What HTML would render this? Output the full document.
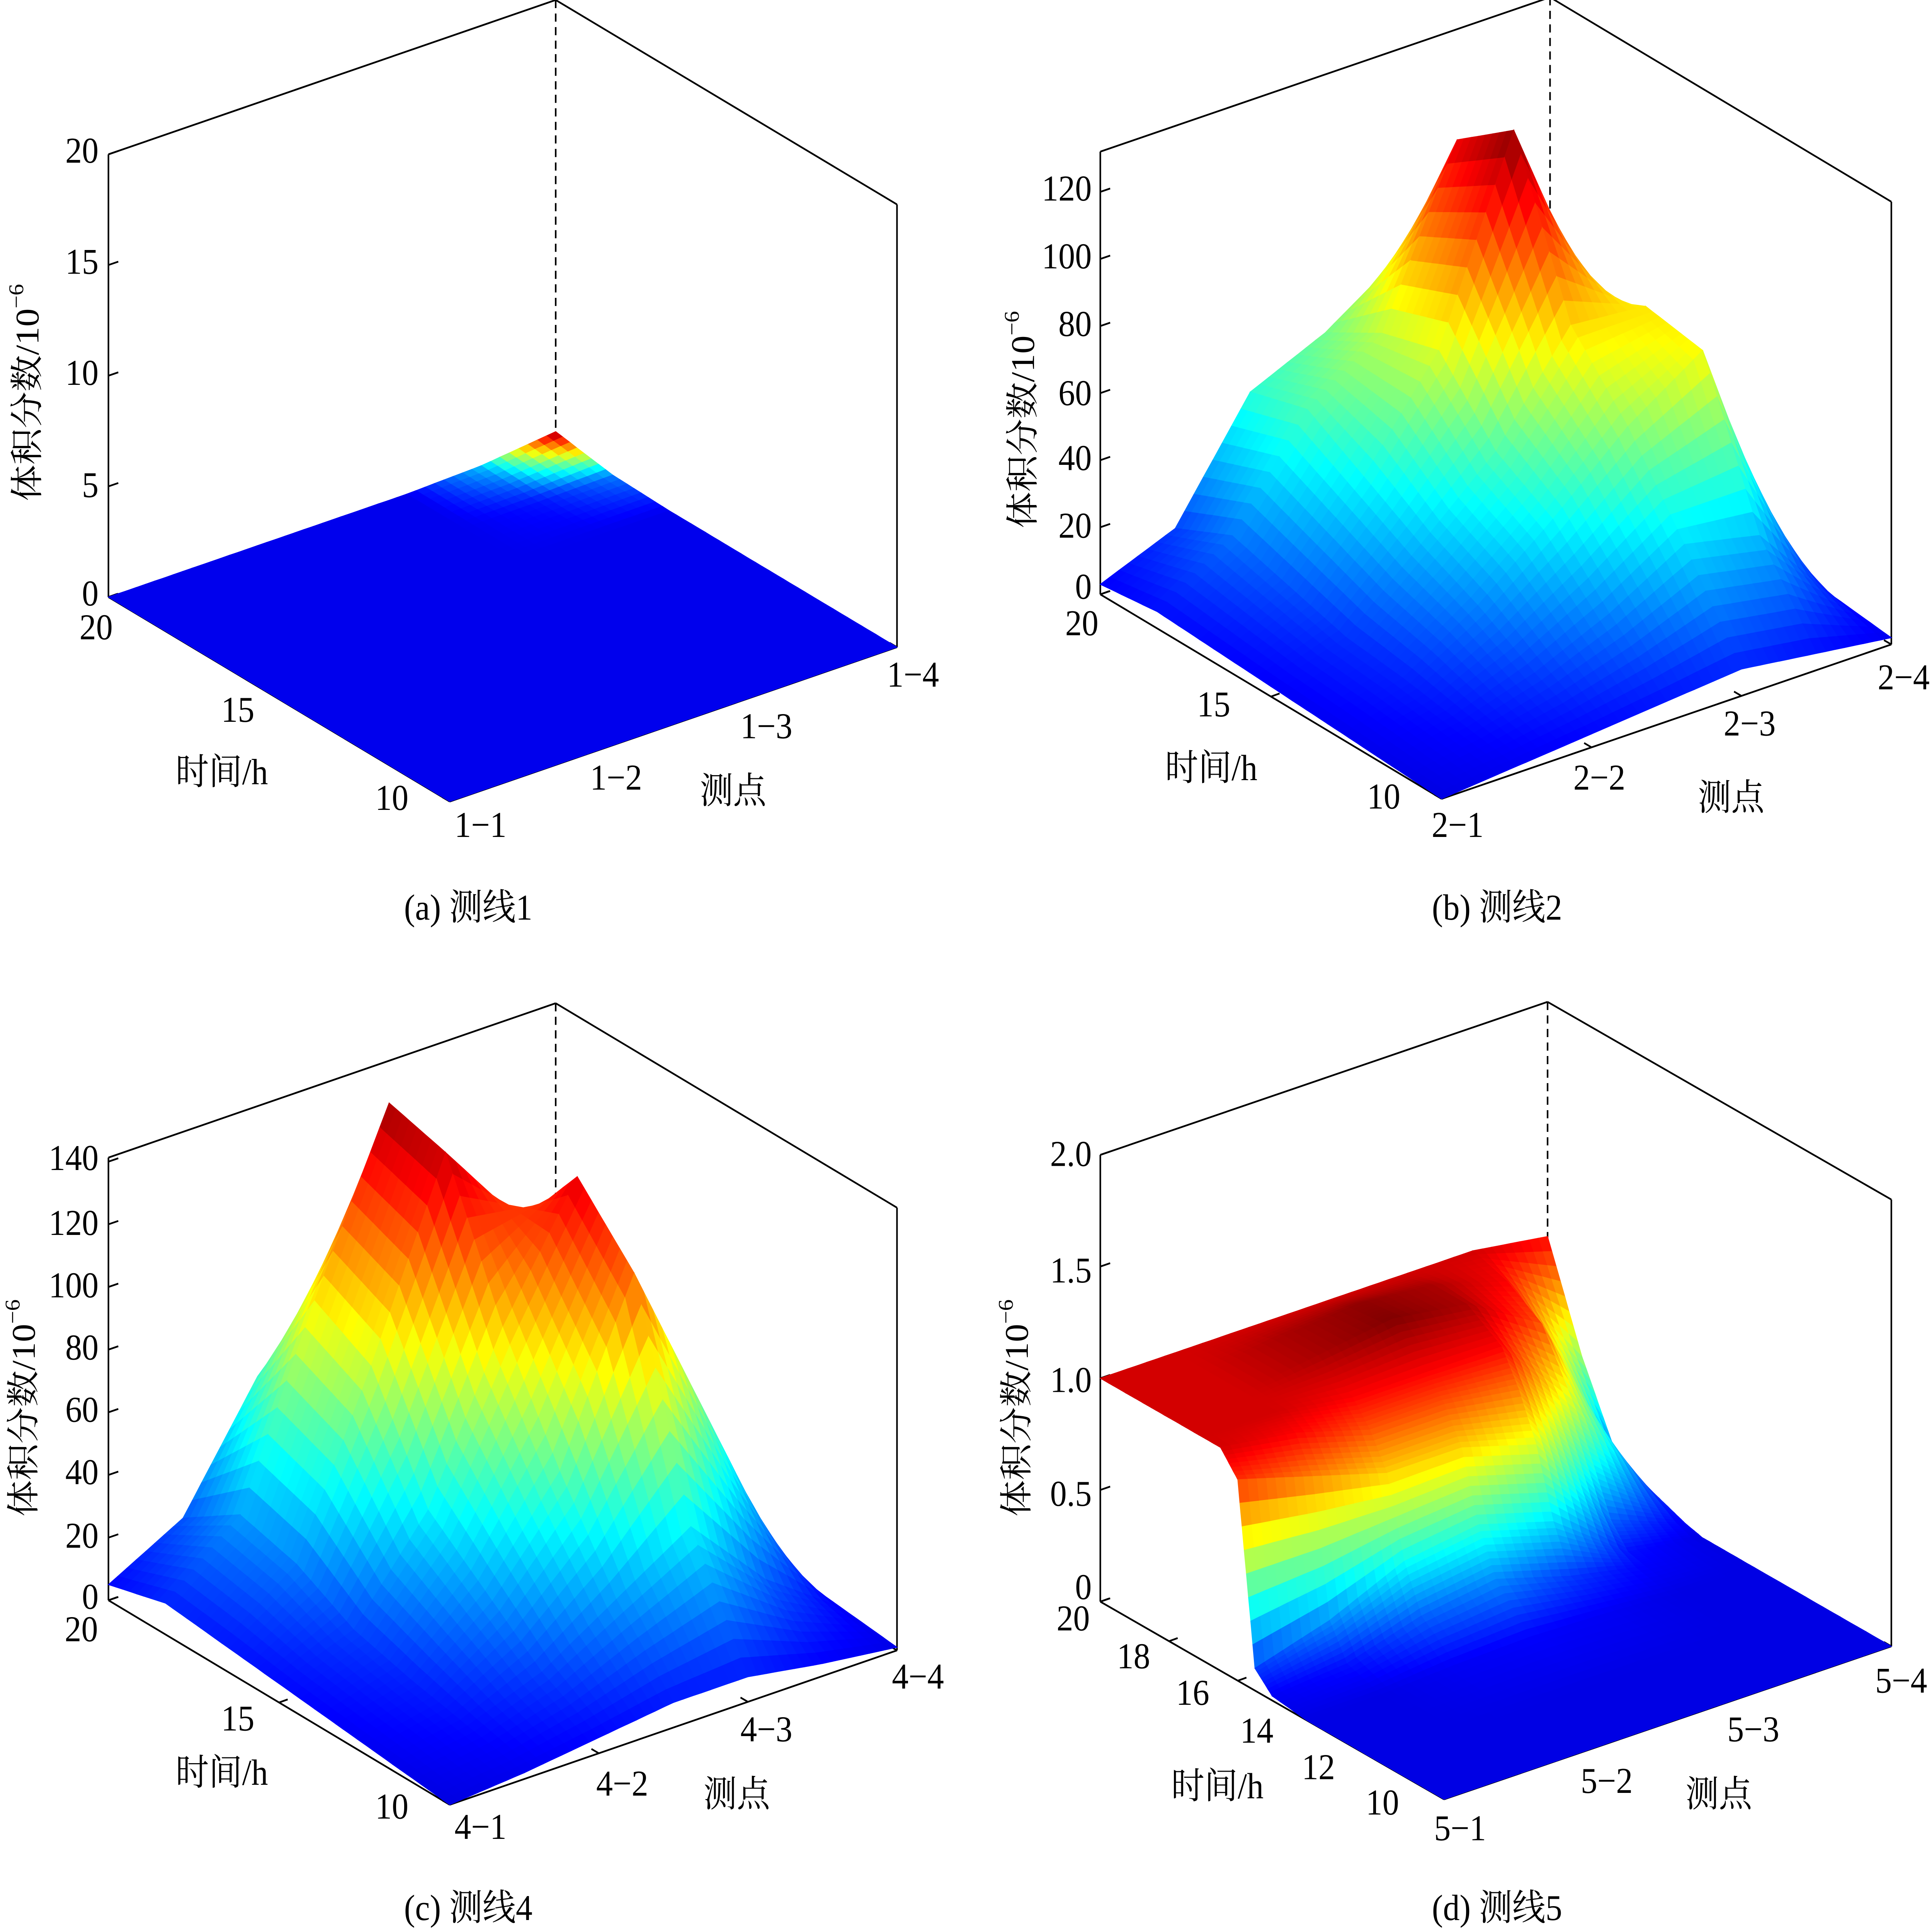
<!DOCTYPE html>
<html><head><meta charset="utf-8">
<style>
html,body{margin:0;padding:0;background:#fff;overflow:hidden;width:100%;height:100%;}
svg{display:block;width:100vw;height:100vh;}
text{font-family:"Liberation Serif","Noto Serif CJK SC","Noto Sans CJK SC",serif;fill:#000;}
</style></head>
<body>
<svg id="fig" xmlns="http://www.w3.org/2000/svg" viewBox="0 0 1568 1427" preserveAspectRatio="none">
<rect x="0" y="0" width="1568" height="1427" fill="#fff"/>
<g id="layerA"></g>
<g id="layerB"></g>
<g id="layerC"></g>
<g id="layerD"></g>
<g font-size="27">
 <g text-anchor="end" dominant-baseline="middle">
  <text x="80" y="114">20</text><text x="80" y="196">15</text><text x="80" y="278">10</text><text x="80" y="361">5</text><text x="80" y="441">0</text>
 </g>
 <g text-anchor="middle" dominant-baseline="middle">
  <text x="78" y="466">20</text><text x="193" y="527">15</text><text x="318" y="592">10</text>
 </g>
 <g text-anchor="middle" dominant-baseline="middle">
  <text x="390" y="612">1−1</text><text x="500" y="577">1−2</text><text x="622" y="539">1−3</text><text x="741" y="501">1−4</text>
 </g>
 <text x="180" y="573" text-anchor="middle" dominant-baseline="middle">时间/h</text>
 <text x="595" y="587" text-anchor="middle" dominant-baseline="middle">测点</text>
 <text transform="translate(25,290) rotate(-90)" text-anchor="middle" dominant-baseline="middle">体积分数/10<tspan font-size="17" dy="-10">−6</tspan></text>
 <text x="380" y="673" text-anchor="middle" dominant-baseline="middle">(a)  测线1</text>

 <g text-anchor="end" dominant-baseline="middle">
  <text x="886" y="142">120</text><text x="886" y="192">100</text><text x="886" y="242">80</text><text x="886" y="293">60</text><text x="886" y="341">40</text><text x="886" y="391">20</text><text x="886" y="436">0</text>
 </g>
 <g text-anchor="middle" dominant-baseline="middle">
  <text x="878" y="463">20</text><text x="985" y="523">15</text><text x="1123" y="591">10</text>
 </g>
 <g text-anchor="middle" dominant-baseline="middle">
  <text x="1183" y="612">2−1</text><text x="1298" y="577">2−2</text><text x="1420" y="537">2−3</text><text x="1545" y="503">2−4</text>
 </g>
 <text x="983" y="570" text-anchor="middle" dominant-baseline="middle">时间/h</text>
 <text x="1405" y="592" text-anchor="middle" dominant-baseline="middle">测点</text>
 <text transform="translate(833,310) rotate(-90)" text-anchor="middle" dominant-baseline="middle">体积分数/10<tspan font-size="17" dy="-10">−6</tspan></text>
 <text x="1215" y="673" text-anchor="middle" dominant-baseline="middle">(b)  测线2</text>

 <g text-anchor="end" dominant-baseline="middle">
  <text x="80" y="858">140</text><text x="80" y="906">120</text><text x="80" y="952">100</text><text x="80" y="998">80</text><text x="80" y="1044">60</text><text x="80" y="1090">40</text><text x="80" y="1137">20</text><text x="80" y="1182">0</text>
 </g>
 <g text-anchor="middle" dominant-baseline="middle">
  <text x="66" y="1206">20</text><text x="193" y="1272">15</text><text x="318" y="1337">10</text>
 </g>
 <g text-anchor="middle" dominant-baseline="middle">
  <text x="390" y="1352">4−1</text><text x="505" y="1320">4−2</text><text x="622" y="1280">4−3</text><text x="745" y="1241">4−4</text>
 </g>
 <text x="180" y="1312" text-anchor="middle" dominant-baseline="middle">时间/h</text>
 <text x="598" y="1328" text-anchor="middle" dominant-baseline="middle">测点</text>
 <text transform="translate(22,1040) rotate(-90)" text-anchor="middle" dominant-baseline="middle">体积分数/10<tspan font-size="17" dy="-10">−6</tspan></text>
 <text x="380" y="1412" text-anchor="middle" dominant-baseline="middle">(c)  测线4</text>

 <g text-anchor="end" dominant-baseline="middle">
  <text x="886" y="855">2.0</text><text x="886" y="941">1.5</text><text x="886" y="1022">1.0</text><text x="886" y="1106">0.5</text><text x="886" y="1175">0</text>
 </g>
 <g text-anchor="middle" dominant-baseline="middle">
  <text x="871" y="1198">20</text><text x="920" y="1226">18</text><text x="968" y="1253">16</text><text x="1020" y="1281">14</text><text x="1070" y="1308">12</text><text x="1122" y="1334">10</text>
 </g>
 <g text-anchor="middle" dominant-baseline="middle">
  <text x="1185" y="1353">5−1</text><text x="1304" y="1318">5−2</text><text x="1423" y="1280">5−3</text><text x="1543" y="1244">5−4</text>
 </g>
 <text x="988" y="1322" text-anchor="middle" dominant-baseline="middle">时间/h</text>
 <text x="1395" y="1328" text-anchor="middle" dominant-baseline="middle">测点</text>
 <text transform="translate(828,1040) rotate(-90)" text-anchor="middle" dominant-baseline="middle">体积分数/10<tspan font-size="17" dy="-10">−6</tspan></text>
 <text x="1215" y="1412" text-anchor="middle" dominant-baseline="middle">(d)  测线5</text>
</g>
</svg>
<script>
const pointsGrid = [1, 1.5, 2, 2.5, 3, 3.5, 4];

const aTimes = [10, 11.67, 13.33, 15, 16.67, 18.33, 20];
const aValues = [
  [0,0,0,0,0,0,0],
  [0,0,0,0,0,0,0],
  [0,0,0,0,0,0,0],
  [0,0,0,0,0,0,0],
  [0,0,0,0,0,0,0],
  [0,0,0,0,0,0.02,0.08],
  [0,0,0,0,0,0.12,0.5]
];
const bTimes = [10, 11.67, 13.33, 15, 16.67, 18.33, 20];
const bValues = [
  [0,2,4,6,8,5,2],
  [1,5,12,22,35,30,4],
  [2,8,22,40,60,75,8],
  [3,10,30,50,80,78,10],
  [4,15,40,70,128,70,10],
  [5,20,50,65,115,60,8],
  [3,12,45,55,70,40,5]
];
const cTimes = [10, 11.67, 13.33, 15, 16.67, 18.33, 20];
const cValues = [
  [0,2,5,8,8,4,1],
  [2,6,15,30,45,20,3],
  [4,10,30,60,115,60,5],
  [6,15,45,95,135,70,6],
  [8,25,80,140,110,50,5],
  [10,30,90,145,100,35,4],
  [5,18,55,80,50,15,3]
];
const dTimes = [10, 12, 14, 15, 15.5, 16, 16.5, 17, 18, 19, 20];
const dValues = [
  [0,0,0,0,0,0,0],
  [0,0,0,0,0,0,0],
  [0,0,0.02,0.03,0.02,0,0],
  [0.02,0.05,0.15,0.2,0.1,0.03,0],
  [0.1,0.2,0.35,0.4,0.3,0.05,0],
  [0.9,0.8,0.7,0.7,0.6,0.15,0.02],
  [1.0,0.95,0.85,0.85,0.8,0.35,0.05],
  [1.0,1.0,0.95,0.95,0.95,0.55,0.08],
  [1.0,1.0,1.05,1.1,1.05,0.85,0.15],
  [1.0,1.0,1.05,1.08,1.05,0.95,0.5],
  [1.0,1.0,1.0,1.0,1.0,1.0,0.95]
];

const NS = 'http://www.w3.org/2000/svg';
const panels = [
  {id:'A', key:'a', times:aTimes, values:aValues, F:[365,592], L:[88,441], R:[728,478], H:327, zmax:20, cmin:-0.06, cmax:0.5, zTicks:[0,5,10,15,20], tTicks:[10,15,20]},
  {id:'B', key:'b', times:bTimes, values:bValues, F:[1170,590], L:[893,439], R:[1535,476], H:327, zmax:132, cmin:-14, cmax:128, zTicks:[0,20,40,60,80,100,120], tTicks:[10,15,20]},
  {id:'C', key:'c', times:cTimes, values:cValues, F:[365,1333], L:[88,1182], R:[728,1219], H:327, zmax:141.3, cmin:-16, cmax:150, zTicks:[0,20,40,60,80,100,120,140], tTicks:[10,15,20]},
  {id:'D', key:'d', times:dTimes, values:dValues, F:[1172,1329], L:[893,1183], R:[1535,1216], H:330, zmax:2.0, cmin:-0.12, cmax:1.1, zTicks:[0,0.5,1,1.5,2], tTicks:[10,12,14,16,18,20]}
];

function clamp(x){return Math.max(0,Math.min(1,x));}
function jet(t){
  t = clamp(t);
  const r = clamp(1.5-Math.abs(4*t-3)), g = clamp(1.5-Math.abs(4*t-2)), b = clamp(1.5-Math.abs(4*t-1));
  return 'rgb('+Math.round(r*255)+','+Math.round(g*255)+','+Math.round(b*255)+')';
}
function uOf(point){return (point-1)/3;}
function vOf(p,time){return (time-10)/10;}
function proj(p,u,v,z){
  const x = p.F[0] + u*(p.R[0]-p.F[0]) + v*(p.L[0]-p.F[0]);
  const y = p.F[1] + u*(p.R[1]-p.F[1]) + v*(p.L[1]-p.F[1]) - (z/p.zmax)*p.H;
  return [x,y];
}
function line(g,a,b,name,dash){
  const l = document.createElementNS(NS,'line');
  l.setAttribute('x1',a[0]);l.setAttribute('y1',a[1]);l.setAttribute('x2',b[0]);l.setAttribute('y2',b[1]);
  l.setAttribute('stroke','#000');l.setAttribute('stroke-width','1.3');
  if(dash) l.setAttribute('stroke-dasharray','6,4');
  
  
  g.appendChild(l);
}

panels.forEach(p=>{
  const g = document.getElementById('layer'+p.id);
  const B = [p.L[0]+p.R[0]-p.F[0], p.L[1]+p.R[1]-p.F[1]];
  const up = q=>[q[0], q[1]-p.H];
  line(g, up(B), B, 'back-dashed-edge', true);
  line(g, p.L, up(p.L), 'z-axis-line');
  line(g, up(p.L), up(B), 'top-left-edge');
  line(g, up(B), up(p.R), 'top-right-edge');
  line(g, p.R, up(p.R), 'right-vertical-edge');
  line(g, p.F, p.L, 'time-axis-line');
  line(g, p.F, p.R, 'point-axis-line');
  p.zTicks.forEach(z=>{
    const a = proj(p,0,1,z);
    line(g, a, [a[0]+8, a[1]-2.5], 'z-tick');
  });
  p.tTicks.forEach(t=>{
    const a = proj(p,0,vOf(p,t),0);
    line(g, a, [a[0]+7, a[1]-2.3], 'time-tick');
  });
  [1,2,3,4].forEach(pt=>{
    const a = proj(p,uOf(pt),0,0);
    line(g, a, [a[0]-6, a[1]-3.2], 'point-tick');
  });
  const quads = [];
  const T = p.times, V = p.values, S = 8;
  for(let j=0;j<T.length-1;j++){
    for(let i=0;i<pointsGrid.length-1;i++){
      const z00=V[j][i], z10=V[j][i+1], z01=V[j+1][i], z11=V[j+1][i+1];
      const u0=uOf(pointsGrid[i]), u1=uOf(pointsGrid[i+1]);
      const v0=vOf(p,T[j]), v1=vOf(p,T[j+1]);
      const zAt=(a,b)=>z00*(1-a)*(1-b)+z10*a*(1-b)+z01*(1-a)*b+z11*a*b;
      for(let sb=0;sb<S;sb++){
        for(let sa=0;sa<S;sa++){
          const a0=sa/S,a1=(sa+1)/S,b0=sb/S,b1=(sb+1)/S;
          const c=[[a0,b0],[a1,b0],[a1,b1],[a0,b1]];
          let zs=0;
          const pts=c.map(([a,b])=>{
            const z=zAt(a,b); zs+=z;
            return proj(p,u0+(u1-u0)*a, v0+(v1-v0)*b, z);
          });
          const uc=u0+(u1-u0)*(a0+a1)/2, vc=v0+(v1-v0)*(b0+b1)/2;
          quads.push({d:uc+vc, pts, z:zs/4});
        }
      }
    }
  }
  quads.sort((q1,q2)=>q2.d-q1.d);
  const sg = document.createElementNS(NS,'g');
  
  
  quads.forEach(q=>{
    const poly = document.createElementNS(NS,'polygon');
    poly.setAttribute('points', q.pts.map(s=>s[0].toFixed(1)+','+s[1].toFixed(1)).join(' '));
    const col = jet((q.z-p.cmin)/(p.cmax-p.cmin));
    poly.setAttribute('fill', col);
    poly.setAttribute('stroke', col);
    poly.setAttribute('stroke-width', '0.6');
    
    
    sg.appendChild(poly);
  });
  g.appendChild(sg);
});
</script>
</body></html>
